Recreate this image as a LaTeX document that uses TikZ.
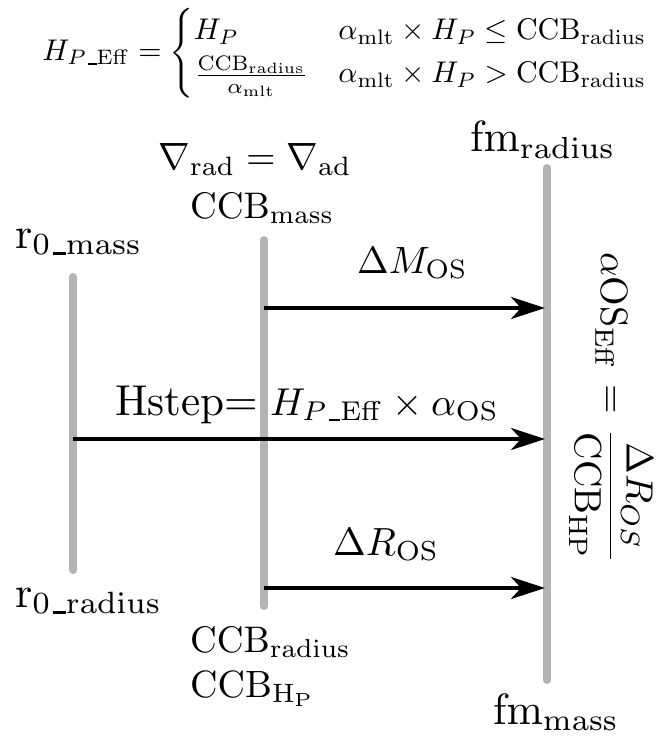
\documentclass[tikz,border=0pt]{standalone}
\usepackage{amsmath}
\usepackage{graphicx}
\usetikzlibrary{arrows.meta}
\tikzset{
  bar/.style={line width=8pt, draw={rgb,255:red,179;green,179;blue,179}, line cap=round},
  arr/.style={line width=4pt, -{Stealth[length=34pt,width=22pt,inset=10pt]}, shorten >=2pt},
  lbl/.style={inner sep=0pt, anchor=base west}
}
\newcommand{\usc}{\kern.06em\vbox{\hrule width.3em height .55pt}}
\newcommand{\scA}[1]{\scalebox{3.8}{#1}}
\newcommand{\scCCB}[1]{\scalebox{3.7}{#1}}
\newcommand{\scR}[1]{\scalebox{4.4}{#1}}
\newcommand{\scF}[1]{\scalebox{4.37}{#1}}
\begin{document}
\begin{tikzpicture}[x=1pt,y=1pt]
\useasboundingbox (0,0) rectangle (668,-738);
% top formula
\node[inner sep=0pt] (hpeff) at (346,-53)
  {\resizebox{607pt}{!}{$H_{P\usc\mathrm{Eff}} = \begin{cases} H_P & \alpha_{\mathrm{mlt}}\times H_P \le \mathrm{CCB_{radius}}\\ \frac{\mathrm{CCB_{radius}}}{\alpha_{\mathrm{mlt}}} & \alpha_{\mathrm{mlt}}\times H_P > \mathrm{CCB_{radius}}\end{cases}$}};
% vertical bars
\coordinate (Lt) at (73,-277);
\coordinate (Lb) at (73,-570);
\coordinate (Mt) at (264,-240);
\coordinate (Mb) at (264,-606);
\coordinate (Rt) at (547,-168);
\coordinate (Rb) at (547,-680);
\draw[bar] (Lt) -- (Lb);
\draw[bar] (Mt) -- (Mb);
\draw[bar] (Rt) -- (Rb);
% arrows
\coordinate (a1s) at (264,-308);
\coordinate (a1e) at (547,-308);
\coordinate (a2s) at (73,-439);
\coordinate (a2e) at (547,-439);
\coordinate (a3s) at (264,-588);
\coordinate (a3e) at (547,-588);
\draw[arr] (a1s) -- (a1e);
\draw[arr] (a2s) -- (a2e);
\draw[arr] (a3s) -- (a3e);
% labels
\node[lbl] (rmass) at (15,-248) {\scR{$\mathrm{r_{0\usc mass}}$}};
\node[lbl] (grad) at (158,-170) {\scA{$\nabla_{\mathrm{rad}}=\nabla_{\mathrm{ad}}$}};
\node[lbl] (ccbmass) at (190,-218) {\scCCB{$\mathrm{CCB_{mass}}$}};
\node[lbl] (fmrad) at (470,-152) {\scF{$\mathrm{fm_{radius}}$}};
\node[lbl] (dm) at (357,-273) {\scA{$\Delta M_{\mathrm{OS}}$}};
\node[lbl] (hstep) at (115,-415) {\scalebox{4.32}{Hstep=}\hspace{12pt}\scalebox{3.88}{$H_{P\usc\mathrm{Eff}}\times\alpha_{\mathrm{OS}}$}};
\node[lbl] (dr) at (333,-555) {\scalebox{3.93}{$\Delta R_{\mathrm{OS}}$}};
\node[lbl] (rrad) at (15,-607) {\scR{$\mathrm{r_{0\usc radius}}$}};
\node[lbl] (ccbrad) at (190,-652) {\scCCB{$\mathrm{CCB_{radius}}$}};
\node[lbl] (ccbhp) at (190,-697) {\scA{$\mathrm{CCB_{H_P}}$}};
\node[lbl] (fmmass) at (493,-724) {\scF{$\mathrm{fm_{mass}}$}};
% rotated formula
\node[inner sep=0pt, anchor=base, rotate=-90] (aos) at (601,-408)
  {\scA{$\alpha\mathrm{OS}_{\mathrm{Eff}}\hspace{1pt}=\hspace{1pt}\dfrac{\Delta R_{OS}}{\mathrm{CCB_{HP}}}$}};
\end{tikzpicture}
\end{document}
